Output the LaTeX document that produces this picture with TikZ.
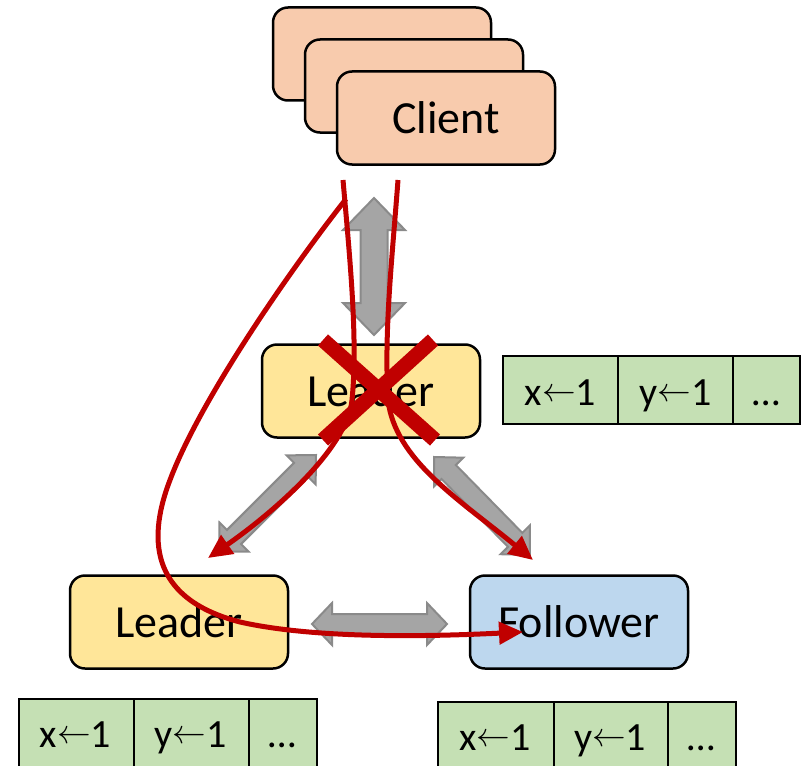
\documentclass[tikz,border=0pt]{standalone}
\usepackage{fontspec}
\usepackage{graphicx}
\setmainfont{Carlito}
\usetikzlibrary{arrows.meta}

\definecolor{clientfill}{HTML}{F8CBAD}
\definecolor{leaderfill}{HTML}{FFE699}
\definecolor{followerfill}{HTML}{BDD7EE}
\definecolor{logfill}{HTML}{C5E0B4}
\definecolor{arrfill}{HTML}{A5A5A5}
\definecolor{arrdraw}{HTML}{8A8A8A}
\definecolor{failred}{HTML}{C00000}

\newcommand\boxfont{\fontsize{46}{52}\selectfont}
\newcommand\logfont{\fontsize{40}{46}\selectfont}
\newcommand\larr{\raisebox{3.5pt}{\scalebox{1.35}{$\leftarrow$}}}

\tikzset{
  srvbox/.style={draw=black, line width=2.5pt, rounded corners=15pt,
    minimum width=218pt, minimum height=93pt, inner sep=0pt, font=\boxfont},
  clientbox/.style={srvbox, fill=clientfill},
  leaderbox/.style={srvbox, fill=leaderfill},
  followerbox/.style={srvbox, fill=followerfill},
  logcell/.style={draw=black, line width=2.2pt, fill=logfill, inner sep=0pt,
    minimum height=68pt, font=\logfont},
  logtext/.style={font=\logfont, inner sep=0pt, text height=30pt, text depth=0pt},
  grayarr/.style={fill=arrfill, draw=arrdraw, line width=2pt, line join=miter},
  reqline/.style={draw=failred, line width=5pt,
    -{Triangle[length=24pt,width=22pt]}},
  crossbar/.style={draw=failred, line width=15pt, line cap=butt},
  pics/dblarr/.style n args={4}{code={
    \path[grayarr] (0,0) -- (#4,#3) -- (#4,#2) -- (#1-#4,#2) -- (#1-#4,#3)
      -- (#1,0) -- (#1-#4,-#3) -- (#1-#4,-#2) -- (#4,-#2) -- (#4,-#3) -- cycle;
  }},
}

\begin{document}
\begin{tikzpicture}[x=1pt, y=-1pt]
\useasboundingbox (0,0) rectangle (802,765);

% stacked clients
\node[clientbox] (client1) at (382,54) {};
\node[clientbox] (client2) at (414,86) {};
\node[clientbox] (client3) at (446,118) {Client};

% servers
\node[leaderbox] (oldleader) at (371,391) {Leader};
\node[leaderbox] (newleader) at (179,622) {Leader};
\node[followerbox] (follower) at (579,622) {Follower};

% replicated log beside the old leader
\node[logcell, minimum width=115pt] (la1) at (560.5,390) {};
\node[logcell, minimum width=115pt] (la2) at (675.5,390) {};
\node[logcell, minimum width=67pt] (la3) at (766.5,390) {};
\node[logtext] (la1t) at (la1) {x\larr1};
\node[logtext] (la2t) at (la2) {y\larr1};
\node[logtext] (la3t) at (la3) {…};

% replicated log under the new leader
\node[logcell, minimum width=115pt, anchor=north west] (lb1) at (18,698) {};
\node[logcell, minimum width=115pt, anchor=north west] (lb2) at (133,698) {};
\node[logcell, minimum width=68pt, anchor=north west] (lb3) at (248,698) {};
\node[logtext] (lb1t) at (75.5,732) {x\larr1};
\node[logtext] (lb2t) at (190.5,732) {y\larr1};
\node[logtext] (lb3t) at (282,732) {…};

% replicated log under the follower
\node[logcell, minimum width=116pt, anchor=north west] (lc1) at (437,701) {};
\node[logcell, minimum width=114pt, anchor=north west] (lc2) at (553,701) {};
\node[logcell, minimum width=68pt, anchor=north west] (lc3) at (667,701) {};
\node[logtext] (lc1t) at (495,735) {x\larr1};
\node[logtext] (lc2t) at (610,735) {y\larr1};
\node[logtext] (lc3t) at (701,735) {…};

% two-way channels between the processes
\coordinate (chanA) at (374,198);
\coordinate (chanB) at (316,455);
\coordinate (chanC) at (434,457);
\coordinate (chanD) at (312,624);
\pic[rotate=-90] at (chanA) {dblarr={137}{13.5}{31}{32}};
\pic[rotate=-135] at (chanB) {dblarr={137}{10}{20.5}{21}};
\pic[rotate=-45.6] at (chanC) {dblarr={137}{10}{20.5}{21}};
\pic at (chanD) {dblarr={135}{10}{21}{20}};

% client requests
\coordinate (reqA0) at (343,180);
\coordinate (reqA1) at (352,400);
\coordinate (reqA2) at (208,558);
\coordinate (reqB0) at (398,180);
\coordinate (reqB1) at (388,400);
\coordinate (reqB2) at (533,560);
\coordinate (reqC0) at (346,199);
\coordinate (reqC1) at (170,480);
\coordinate (reqC2) at (240,622);
\coordinate (reqC3) at (523,632);

\draw[reqline] (reqA0) .. controls (350,260) and (358,340) .. (reqA1)
  .. controls (347,450) and (270,515) .. (reqA2);
\draw[reqline] (reqB0) .. controls (392,260) and (384,330) .. (reqB1)
  .. controls (395,460) and (460,500) .. (reqB2);
\draw[reqline] (reqC0) .. controls (290,270) and (200,400) .. (reqC1)
  .. controls (145,545) and (155,600) .. (reqC2)
  .. controls (320,640) and (440,636) .. (reqC3);

% failed leader
\coordinate (xa) at (323,340);
\coordinate (xb) at (435,440);
\coordinate (xc) at (433,340);
\coordinate (xd) at (323,440);
\draw[crossbar] (xa) -- (xb);
\draw[crossbar] (xc) -- (xd);
\end{tikzpicture}
\end{document}
